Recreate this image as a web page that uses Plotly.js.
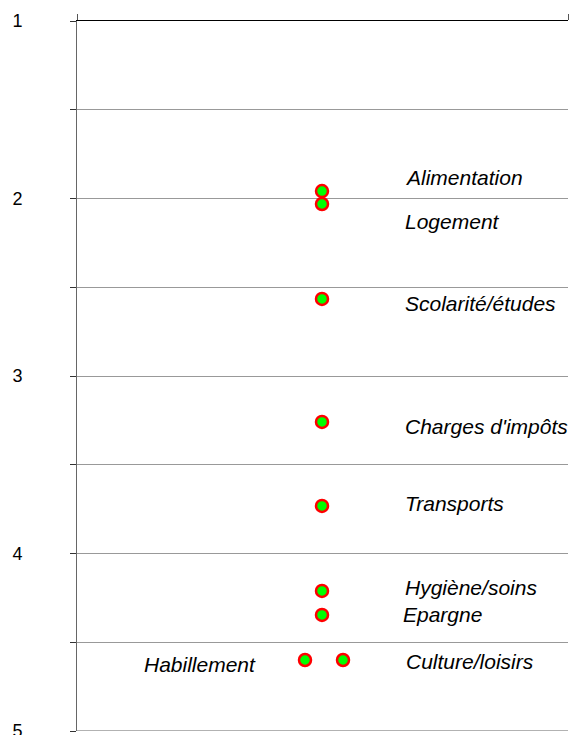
<!DOCTYPE html>
<html>
<head>
<meta charset="utf-8">
<script src="https://cdn.plot.ly/plotly-3.0.1.min.js"></script>
<style>html,body{margin:0;padding:0;background:#fff;}#chart{width:574px;height:735px;}</style>
</head>
<body>
<div id="chart"></div>
<script>
// Data
var categories = ["Alimentation","Logement","Scolarité/études","Charges d'impôts","Transports","Hygiène/soins","Epargne","Habillement","Culture/loisirs"];
var pointX = [2.45, 2.45, 2.45, 2.45, 2.45, 2.45, 2.45, 2.28, 2.66];
var pointY = [1.958, 2.031, 2.566, 3.259, 3.732, 4.211, 4.346, 4.6, 4.6];
var labelX = [3.26, 3.26, 3.26, 3.26, 3.26, 3.26, 3.24, 0.65, 3.27];
var labelY = [1.879, 2.127, 2.594, 3.282, 3.721, 4.189, 4.346, 4.623, 4.606];
var yTickVals = [1, 1.5, 2, 2.5, 3, 3.5, 4, 4.5, 5];
var yTickText = ["1", "", "2", "", "3", "", "4", "", "5"];

var trace = {
  x: pointX, y: pointY, mode: 'markers', type: 'scatter',
  text: categories, hoverinfo: 'text',
  marker: {size: 12, color: '#00ff00', line: {color: '#ff0000', width: 2.5}},
  cliponaxis: false
};

var annotations = categories.map(function(c, i){
  return {x: labelX[i], y: labelY[i], xref: 'x', yref: 'y', text: '<i>' + c + '</i>',
    showarrow: false, xanchor: 'left', yanchor: 'middle',
    font: {family: 'Liberation Sans, Arial, sans-serif', size: 21, color: '#000'}};
});

var layout = {
  width: 574, height: 735,
  margin: {l: 77, r: 6, t: 21, b: 4, pad: 0},
  paper_bgcolor: '#fff', plot_bgcolor: '#fff',
  showlegend: false,
  xaxis: {range: [0, 4.91], side: 'top', showline: true, linecolor: '#000', linewidth: 1.5,
    showgrid: false, zeroline: false, ticks: 'outside', ticklen: 6, tickcolor: '#555',
    tickvals: [0, 4.91], showticklabels: false, fixedrange: true},
  yaxis: {range: [5, 1], showline: true, linecolor: '#666', linewidth: 1,
    showgrid: true, gridcolor: '#999', gridwidth: 1, zeroline: false,
    ticks: 'outside', ticklen: 6, tickcolor: '#333',
    tickvals: yTickVals, ticktext: yTickText, ticklabelstandoff: 44,
    ticklabeloverflow: 'allow',
    tickfont: {family: 'Liberation Sans, Arial, sans-serif', size: 18, color: '#000'}, fixedrange: true},
  shapes: [{type: 'line', xref: 'paper', yref: 'y', x0: 0, x1: 1, y0: 5, y1: 5,
    line: {color: '#999', width: 1.5}}],
  annotations: annotations
};

Plotly.newPlot('chart', [trace], layout, {displayModeBar: false, staticPlot: true});
</script>
</body>
</html>
